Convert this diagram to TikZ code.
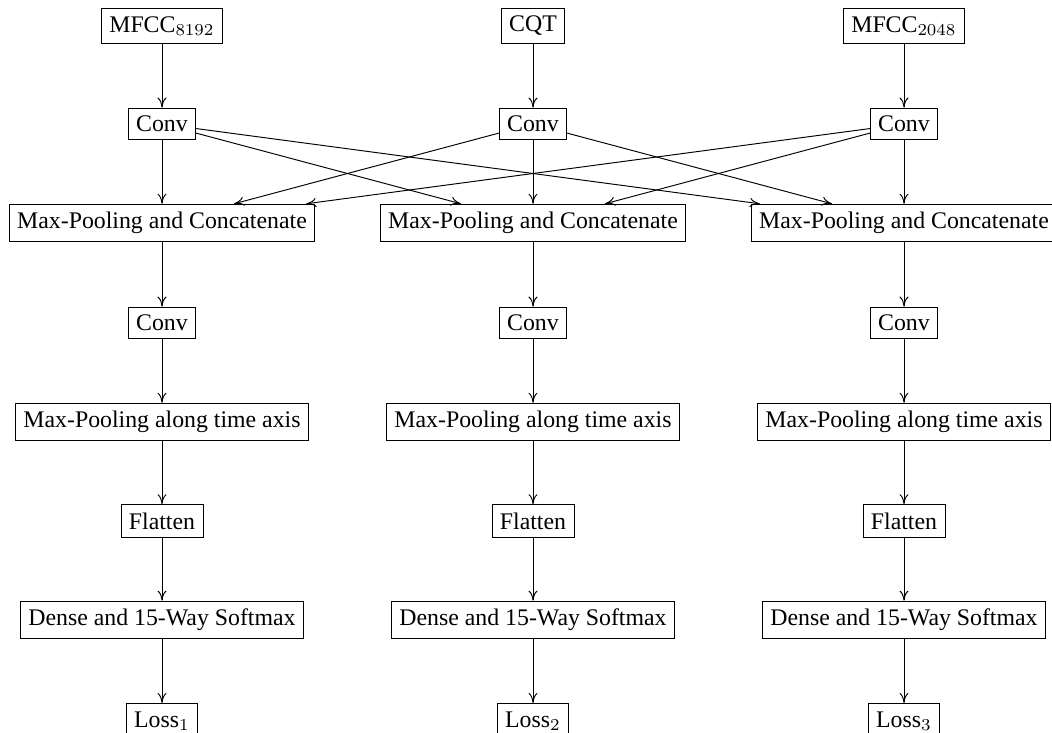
\documentclass[tikz,border=0pt]{standalone}
\usepackage[no-math]{fontspec}
\setmainfont{Liberation Serif}
\usetikzlibrary{arrows.meta}
\begin{document}
\begin{tikzpicture}[x=0.42pt,y=-0.42pt, every node/.style={font=\normalsize},
    blk/.style={draw, inner sep=0.3333em},
    flow/.style={-{To[length=4.2pt,width=3.8pt]}}]
  \useasboundingbox (0,0) rectangle (1052,733);

  \node[blk] (in1) at (162,26) {MFCC$_{8192}$};
  \node[blk] (in2) at (533,26) {CQT};
  \node[blk] (in3) at (904,26) {MFCC$_{2048}$};

  \foreach \i/\x in {1/162,2/533,3/904} {
    \node[blk] (cva\i) at (\x,124) {Conv};
    \node[blk] (mpc\i) at (\x,223) {Max-Pooling and Concatenate};
    \node[blk] (cvb\i) at (\x,323) {Conv};
    \node[blk] (mpt\i) at (\x,422) {Max-Pooling along time axis};
    \node[blk] (fl\i) at (\x,521) {Flatten};
    \node[blk] (dn\i) at (\x,620) {Dense and 15-Way Softmax};
    \node[blk] (loss\i) at (\x,721) {Loss$_\i$};
  }

  % every first conv feeds every concatenation
  \foreach \i in {1,2,3} {
    \draw[flow] (in\i) -- (cva\i);
    \foreach \j in {1,2,3}
      \draw[flow] (cva\i) -- (mpc\j);
    \draw[flow] (mpc\i) -- (cvb\i);
    \draw[flow] (cvb\i) -- (mpt\i);
    \draw[flow] (mpt\i) -- (fl\i);
    \draw[flow] (fl\i) -- (dn\i);
    \draw[flow] (dn\i) -- (loss\i);
  }
\end{tikzpicture}
\end{document}
